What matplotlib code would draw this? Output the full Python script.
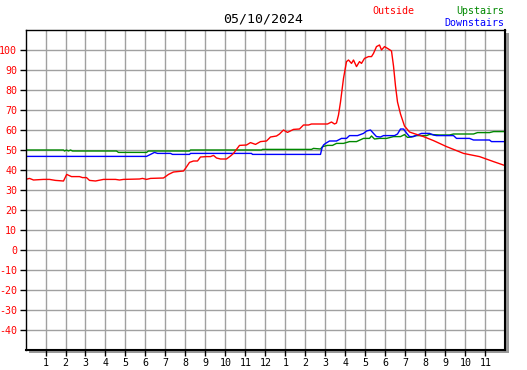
import matplotlib
matplotlib.use("Agg")
import matplotlib.pyplot as plt
from matplotlib.patches import Rectangle

# hours since midnight, temperature
out_hours = [0, 0.2, 0.4, 0.9, 1.2, 1.5, 1.9, 2.06, 2.3, 2.7, 2.85, 3.05, 3.2, 3.5, 3.9,
             4.5, 4.7, 4.9, 5.7, 5.85, 6.05, 6.25, 6.9, 7.0, 7.15, 7.4, 7.9, 8.0, 8.2,
             8.4, 8.6, 8.75, 9.05, 9.25, 9.4, 9.55, 9.75, 10.05, 10.25, 10.4, 10.7,
             11.05, 11.25, 11.5, 11.75, 12.05, 12.25, 12.55, 12.7, 12.9, 13.1, 13.4,
             13.7, 13.9, 14.15, 14.3, 14.9, 15.1, 15.3, 15.45, 15.55, 15.65, 15.75,
             15.9, 16.05, 16.15, 16.3, 16.4, 16.55, 16.7, 16.8, 16.95, 17.15, 17.3,
             17.4, 17.55, 17.7, 17.8, 17.95, 18.15, 18.3, 18.4, 18.5, 18.6, 18.75,
             18.95, 19.2, 19.4, 19.9, 20.4, 21.05, 21.9, 22.7, 23.4, 23.95]
out_temp = [35.3, 35.8, 35, 35.3, 35.3, 34.8, 34.5, 37.8, 36.7, 36.7, 36.2, 36.2, 34.8,
            34.5, 35.3, 35.3, 35, 35.3, 35.5, 35.8, 35.3, 35.8, 36.0, 36.7, 37.8, 39.0,
            39.5, 40.8, 43.8, 44.5, 44.5, 46.5, 46.7, 46.7, 47.3, 46.0, 45.5, 45.5,
            47.0, 48.3, 52.3, 52.5, 53.7, 52.8, 54.2, 54.5, 56.5, 57.0, 58.0, 60.0,
            58.8, 60.3, 60.5, 62.5, 62.5, 63, 63, 63, 64, 63, 63.5, 67.5, 74, 85.8,
            94.2, 95, 93.3, 95, 91.7, 94.2, 93.3, 95.8, 96.7, 96.7, 98.3, 101.7, 102.5,
            100, 101.7, 100.5, 99.5, 92, 82, 74, 68, 62, 59, 58.3, 56.7, 54.7, 51.7,
            48.3, 46.7, 44.2, 42.3]

up_hours = [0, 1.9, 1.95, 2.05, 2.15, 2.25, 2.35, 4.55, 4.65, 6.05, 6.15, 8.2, 8.25,
            11.8, 11.85, 14.3, 14.4, 14.75, 14.85, 15.1, 15.35, 15.55, 15.9, 16.2,
            16.55, 16.9, 17.2, 17.3, 17.45, 17.7, 18.05, 18.4, 18.75, 18.95, 19.1,
            19.3, 19.5, 20.05, 20.2, 20.7, 21.2, 21.4, 22.4, 22.6, 23.2, 23.4, 24]
up_temp = [50, 50, 49.5, 50, 49.5, 50, 49.5, 49.5, 48.8, 48.8, 49.5, 49.5, 50, 50,
           50.3, 50.3, 50.8, 50.5, 51.7, 52.3, 52.3, 53.3, 53.3, 54.2, 54.2, 55.8,
           55.8, 57.0, 55.5, 55.8, 55.8, 56.7, 56.7, 57.7, 56.3, 56.5, 57.2, 57.2,
           57.8, 57.5, 57.5, 58.0, 58.0, 58.7, 58.7, 59.2, 59.2]

down_hours = [0, 6.05, 6.25, 6.45, 6.6, 7.25, 7.35, 8.2, 8.25, 11.3, 11.35, 14.75,
              14.82, 14.9, 15.0, 15.2, 15.55, 15.8, 16.05, 16.2, 16.6, 16.9, 17.05,
              17.25, 17.4, 17.55, 17.75, 17.9, 18.45, 18.6, 18.75, 18.9, 19.05, 19.2,
              19.4, 19.6, 19.8, 20.2, 20.4, 20.55, 21.4, 21.55, 22.2, 22.4, 23.2,
              23.3, 24]
down_temp = [46.8, 46.8, 47.8, 48.8, 48.3, 48.3, 47.8, 47.8, 48.3, 48.3, 47.8, 47.8,
             50.8, 52.5, 53.3, 54.5, 54.5, 55.8, 55.8, 57.2, 57.2, 58.3, 59.5, 60.0,
             58.3, 56.7, 56.5, 57.2, 57.2, 58, 60.5, 60.5, 58.5, 56.7, 56.7, 57.5,
             58.3, 58.3, 57.5, 57.2, 57.2, 55.8, 55.8, 55.0, 55.0, 54.2, 54.2]

hour_ticks = list(range(1, 24))
hour_labels = [str(h if h <= 12 else h - 12) for h in hour_ticks]
temp_ticks = list(range(-40, 101, 10))

mono = "DejaVu Sans Mono"
fig = plt.figure(figsize=(5.27, 3.70), dpi=100)
pos = [25.5 / 527, 20 / 370, 480 / 527, 320 / 370]

# grey drop shadow at right/bottom
fig.patches.append(Rectangle((pos[0] + 3 / 527, pos[1] - 3 / 370), pos[2], pos[3],
                             transform=fig.transFigure, facecolor="#999999",
                             edgecolor="none", zorder=0.5))

ax = fig.add_axes(pos, zorder=1)
ax.set_facecolor("white")

ax.plot(up_hours, up_temp, color="#008800", lw=1.0)
ax.plot(down_hours, down_temp, color="#0000ff", lw=1.0)
ax.plot(out_hours, out_temp, color="#ff0000", lw=1.0)

ax.set_xlim(0, 24)
ax.set_ylim(-50, 110)
ax.set_xticks(hour_ticks)
ax.set_xticklabels(hour_labels, fontfamily=mono, fontsize=7.2)
ax.set_yticks(temp_ticks)
ax.set_yticklabels([str(t) for t in temp_ticks], fontfamily=mono, fontsize=7.2, color="red")
ax.tick_params(direction="out", length=4, width=1, pad=2, color="black")
ax.grid(True, color="#a0a0a0", lw=1)
ax.set_axisbelow(True)
for s in ["left", "top"]:
    ax.spines[s].set_linewidth(1)
for s in ["right", "bottom"]:
    ax.spines[s].set_linewidth(1.5)

fig.text(263 / 527, 1 - 19 / 370, "05/10/2024", fontfamily=mono, fontsize=9.5,
         ha="center", va="center", color="black")
fig.text(393 / 527, 1 - 11 / 370, "Outside", fontfamily=mono, fontsize=7.2,
         ha="center", va="center", color="red")
fig.text(504 / 527, 1 - 11 / 370, "Upstairs", fontfamily=mono, fontsize=7.2,
         ha="right", va="center", color="#008800")
fig.text(504 / 527, 1 - 23 / 370, "Downstairs", fontfamily=mono, fontsize=7.2,
         ha="right", va="center", color="blue")

fig.savefig("out.png", dpi=100)
